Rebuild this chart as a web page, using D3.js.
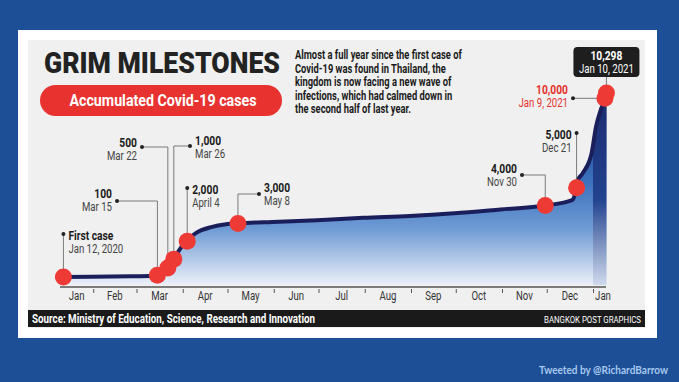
<!DOCTYPE html>
<html>
<head>
<meta charset="utf-8">
<script src="https://cdn.jsdelivr.net/npm/d3@7"></script>
<style>
  body { margin: 0; background: #1c4f96; }
  svg { display: block; }
  .cond { font-family: Roboto, "Open Sans", sans-serif; }
</style>
</head>
<body>
<div id="chart"></div>
<script>
// cumulative cases
const caseDates = ['2020-01-12', '2020-01-31', '2020-02-29', '2020-03-10', '2020-03-15', '2020-03-22',
  '2020-03-26', '2020-04-01', '2020-04-04', '2020-04-10', '2020-04-20', '2020-04-30', '2020-05-08',
  '2020-05-31', '2020-06-30', '2020-07-31', '2020-08-31', '2020-09-30', '2020-10-31', '2020-11-30',
  '2020-12-18', '2020-12-20', '2020-12-21', '2020-12-25', '2020-12-31', '2021-01-03', '2021-01-06',
  '2021-01-09', '2021-01-10'];
const caseCounts = [1, 19, 42, 53, 114, 599, 1045, 1771, 2067, 2473, 2792, 2954, 3000,
  3082, 3171, 3310, 3411, 3564, 3780, 4000,
  4300, 4700, 5300, 5800, 6900, 8400, 9300, 10000, 10298];

// milestones shown with red dots
const milestoneDates = ['2020-01-12', '2020-03-15', '2020-03-22', '2020-03-26', '2020-04-04',
  '2020-05-08', '2020-11-30', '2020-12-21', '2021-01-09', '2021-01-10'];
const milestoneValues = [1, 100, 500, 1000, 2000, 3000, 4000, 5000, 10000, 10298];
const milestoneTitles = ['First case', '100', '500', '1,000', '2,000', '3,000', '4,000', '5,000', '10,000', '10,298'];
const milestoneSubs = ['Jan 12, 2020', 'Mar 15', 'Mar 22', 'Mar 26', 'April 4', 'May 8', 'Nov 30', 'Dec 21', 'Jan 9, 2021', 'Jan 10, 2021'];

const monthLabels = ['Jan', 'Feb', 'Mar', 'Apr', 'May', 'Jun', 'Jul', 'Aug', 'Sep', 'Oct', 'Nov', 'Dec', 'Jan'];

const introLines = [
  'Almost a full year since the first case of',
  'Covid-19 was found in Thailand, the',
  'kingdom is now facing a new wave of',
  'infections, which had calmed down in',
  'the second half of last year.'
];

const parse = d3.timeParse('%Y-%m-%d');
const series = caseDates.map((d, i) => ({ date: parse(d), value: caseCounts[i] }));
const milestones = milestoneDates.map((d, i) => ({
  date: parse(d), value: milestoneValues[i], title: milestoneTitles[i], sub: milestoneSubs[i]
}));

// label placement for each milestone (leader end point, text side)
const leaders = [
  { endY: 234, endX: null, side: 'right', ty: 240 },
  { endY: 201, endX: 117, side: 'left', ty: 198 },
  { endY: 147, endX: 142, side: 'left', ty: 147 },
  { endY: 146, endX: 190, side: 'right', ty: 145 },
  { endY: 188, endX: null, side: 'right', ty: 194 },
  { endY: 194, endX: 259, side: 'right', ty: 192 },
  { endY: 175, endX: 522, side: 'left', ty: 173 },
  { endY: 133, endX: null, side: 'left', ty: 139 },
  { endY: null, endX: 573, side: 'left', ty: 94, red: true },
  null
];

const width = 679;
const height = 382;

// no condensed font installed: squeeze the glyphs horizontally instead
function squeeze(sel, k) {
  sel.each(function () {
    const w = this.getComputedTextLength();
    d3.select(this).attr('textLength', w * k).attr('lengthAdjust', 'spacingAndGlyphs');
  });
}

const svg = d3.select('#chart')
  .append('svg')
  .attr('width', width)
  .attr('height', height);

// card
svg.append('rect').attr('x', 18).attr('y', 30).attr('width', 639).attr('height', 308).attr('fill', '#fff');
svg.append('rect').attr('x', 28).attr('y', 40).attr('width', 617).attr('height', 288).attr('fill', '#f0f0f0');

const xScale = d3.scaleTime()
  .domain([new Date(2020, 0, 1), new Date(2021, 0, 1)])
  .range([47, 593]);
const yScale = d3.scaleLinear().domain([0, 10298]).range([277, 93]);
const baseY = 287;

const defs = svg.append('defs');
const grad = defs.append('linearGradient')
  .attr('id', 'fillGrad')
  .attr('gradientUnits', 'userSpaceOnUse')
  .attr('x1', 0).attr('x2', 0).attr('y1', 93).attr('y2', baseY);
grad.append('stop').attr('offset', 0).attr('stop-color', '#1d2f78');
grad.append('stop').attr('offset', 0.45).attr('stop-color', '#3b70bd');
grad.append('stop').attr('offset', 0.7).attr('stop-color', '#6e9bd4');
grad.append('stop').attr('offset', 1).attr('stop-color', '#f0f3fa');

const grad2 = defs.append('linearGradient')
  .attr('id', 'fillGrad2')
  .attr('gradientUnits', 'userSpaceOnUse')
  .attr('x1', 0).attr('x2', 0).attr('y1', 93).attr('y2', baseY);
grad2.append('stop').attr('offset', 0).attr('stop-color', '#1b2a6e');
grad2.append('stop').attr('offset', 0.55).attr('stop-color', '#22438f');
grad2.append('stop').attr('offset', 1).attr('stop-color', '#d3ddef');

const area = d3.area()
  .x(d => xScale(d.date))
  .y0(baseY - 2)
  .y1(d => yScale(d.value))
  .curve(d3.curveMonotoneX);

const line = d3.line()
  .x(d => xScale(d.date))
  .y(d => yScale(d.value))
  .curve(d3.curveMonotoneX);

defs.append('clipPath').attr('id', 'areaClip')
  .append('path').attr('d', area(series));

svg.append('path')
  .attr('d', area(series))
  .attr('fill', 'url(#fillGrad)');

// darker band for the new year
svg.append('rect')
  .attr('clip-path', 'url(#areaClip)')
  .attr('x', xScale(new Date(2021, 0, 1)))
  .attr('y', 80)
  .attr('width', 20)
  .attr('height', baseY - 80)
  .attr('fill', 'url(#fillGrad2)');

svg.append('path')
  .attr('d', line(series))
  .attr('fill', 'none')
  .attr('stroke', '#1a1f5c')
  .attr('stroke-width', 4)
  .attr('stroke-linejoin', 'round');

// x axis
const xAxis = d3.axisBottom(xScale)
  .ticks(d3.timeMonth.every(1))
  .tickFormat('')
  .tickSize(6)
  .tickSizeOuter(0);

const axisG = svg.append('g')
  .attr('transform', `translate(0, ${baseY})`)
  .call(xAxis);
axisG.select('.domain').remove();
axisG.selectAll('.tick').filter(d => +d === +xScale.domain()[0]).remove();
axisG.selectAll('.tick line').attr('stroke', '#555').attr('y1', 2);
svg.append('line')
  .attr('x1', 60).attr('x2', 606)
  .attr('y1', baseY).attr('y2', baseY)
  .attr('stroke', '#555').attr('stroke-width', 1.5);

const monthStarts = d3.timeMonth.range(new Date(2020, 0, 1), new Date(2021, 1, 1));
svg.append('g')
  .selectAll('text')
  .data(monthLabels)
  .join('text')
  .attr('class', 'cond')
  .attr('x', (d, i) => {
    const a = Math.max(xScale(monthStarts[i]), 60);
    const b = i === 12 ? 613 : xScale(monthStarts[i + 1]);
    return (a + b) / 2;
  })
  .attr('y', 300)
  .attr('text-anchor', 'middle')
  .attr('font-size', 12)
  .attr('fill', '#333')
  .text(d => d)
  .call(squeeze, 0.8);

// leaders and labels
const ann = svg.append('g');
milestones.forEach((m, i) => {
  const L = leaders[i];
  if (!L) return;
  const cx = xScale(m.date);
  const cy = yScale(m.value);
  const endX = L.endX === null ? cx : L.endX;
  const endY = L.endY === null ? cy : L.endY;
  const pts = L.endY === null ? [[cx, cy], [endX, cy]] : [[cx, cy], [cx, endY], [endX, endY]];
  ann.append('path')
    .attr('d', d3.line()(pts))
    .attr('fill', 'none')
    .attr('stroke', '#7a7a7a')
    .attr('stroke-width', 1);
  ann.append('circle').attr('cx', endX).attr('cy', endY).attr('r', 2).attr('fill', '#222');
  const tx = L.side === 'right' ? endX + 5 : endX - 5;
  const anchor = L.side === 'right' ? 'start' : 'end';
  ann.append('text')
    .attr('class', 'cond')
    .attr('x', tx).attr('y', L.ty)
    .attr('text-anchor', anchor)
    .attr('font-size', 12.5)
    .attr('font-weight', 'bold')
    .attr('fill', L.red ? '#e5322d' : '#1a1a1a')
    .text(m.title)
    .call(squeeze, 0.82);
  ann.append('text')
    .attr('class', 'cond')
    .attr('x', tx).attr('y', L.ty + 13)
    .attr('text-anchor', anchor)
    .attr('font-size', 12)
    .attr('fill', L.red ? '#e5322d' : '#444')
    .text(m.sub)
    .call(squeeze, 0.8);
});

// final milestone box
const last = milestones[milestones.length - 1];
const lx = xScale(last.date);
ann.append('line')
  .attr('x1', lx).attr('x2', lx)
  .attr('y1', 77).attr('y2', yScale(last.value))
  .attr('stroke', '#7a7a7a');
ann.append('rect')
  .attr('x', lx - 33).attr('y', 47)
  .attr('width', 66).attr('height', 30)
  .attr('rx', 4)
  .attr('fill', '#1e1e1e');
ann.append('text')
  .attr('class', 'cond')
  .attr('x', lx).attr('y', 60)
  .attr('text-anchor', 'middle')
  .attr('font-size', 12.5).attr('font-weight', 'bold')
  .attr('fill', '#fff')
  .text(last.title)
  .call(squeeze, 0.82);
ann.append('text')
  .attr('class', 'cond')
  .attr('x', lx).attr('y', 73)
  .attr('text-anchor', 'middle')
  .attr('font-size', 12)
  .attr('fill', '#fff')
  .text(last.sub)
  .call(squeeze, 0.8);

// dots
svg.append('g')
  .selectAll('circle')
  .data(milestones)
  .join('circle')
  .attr('cx', d => xScale(d.date))
  .attr('cy', d => yScale(d.value))
  .attr('r', 8.5)
  .attr('fill', '#ee3a35');

// title block
svg.append('text')
  .attr('class', 'cond')
  .attr('x', 44).attr('y', 73)
  .attr('font-size', 30)
  .attr('font-weight', 900)
  .attr('fill', '#222')
  .attr('textLength', 236)
  .attr('lengthAdjust', 'spacingAndGlyphs')
  .text('GRIM MILESTONES');

svg.append('rect')
  .attr('x', 40).attr('y', 85)
  .attr('width', 242).attr('height', 31)
  .attr('rx', 15.5)
  .attr('fill', '#e8322f');
svg.append('text')
  .attr('class', 'cond')
  .attr('x', 163).attr('y', 106)
  .attr('text-anchor', 'middle')
  .attr('font-size', 17)
  .attr('font-weight', 'bold')
  .attr('fill', '#fff')
  .attr('textLength', 187)
  .attr('lengthAdjust', 'spacingAndGlyphs')
  .text('Accumulated Covid-19 cases');

svg.append('g')
  .selectAll('text')
  .data(introLines)
  .join('text')
  .attr('class', 'cond')
  .attr('x', 295)
  .attr('y', (d, i) => 59 + i * 13.6)
  .attr('font-size', 12)
  .attr('font-weight', 'bold')
  .attr('fill', '#1a1a1a')
  .text(d => d)
  .call(squeeze, 0.78);

// footer bar
svg.append('rect').attr('x', 28).attr('y', 310).attr('width', 617).attr('height', 17).attr('fill', '#1a1a1a');
svg.append('text')
  .attr('class', 'cond')
  .attr('x', 32).attr('y', 323)
  .attr('font-size', 12).attr('font-weight', 'bold')
  .attr('fill', '#fff')
  .attr('textLength', 283)
  .attr('lengthAdjust', 'spacingAndGlyphs')
  .text('Source: Ministry of Education, Science, Research and Innovation');
svg.append('text')
  .attr('class', 'cond')
  .attr('x', 641).attr('y', 323)
  .attr('text-anchor', 'end')
  .attr('font-size', 9.5)
  .attr('fill', '#fff')
  .attr('textLength', 97)
  .attr('lengthAdjust', 'spacingAndGlyphs')
  .text('BANGKOK POST GRAPHICS');

svg.append('text')
  .attr('x', 668).attr('y', 374)
  .attr('text-anchor', 'end')
  .attr('font-family', 'Lato, sans-serif')
  .attr('font-size', 10.5)
  .attr('font-weight', 'bold')
  .attr('fill', '#a8c8f0')
  .attr('textLength', 129)
  .attr('lengthAdjust', 'spacingAndGlyphs')
  .text('Tweeted by @RichardBarrow');
</script>
</body>
</html>
